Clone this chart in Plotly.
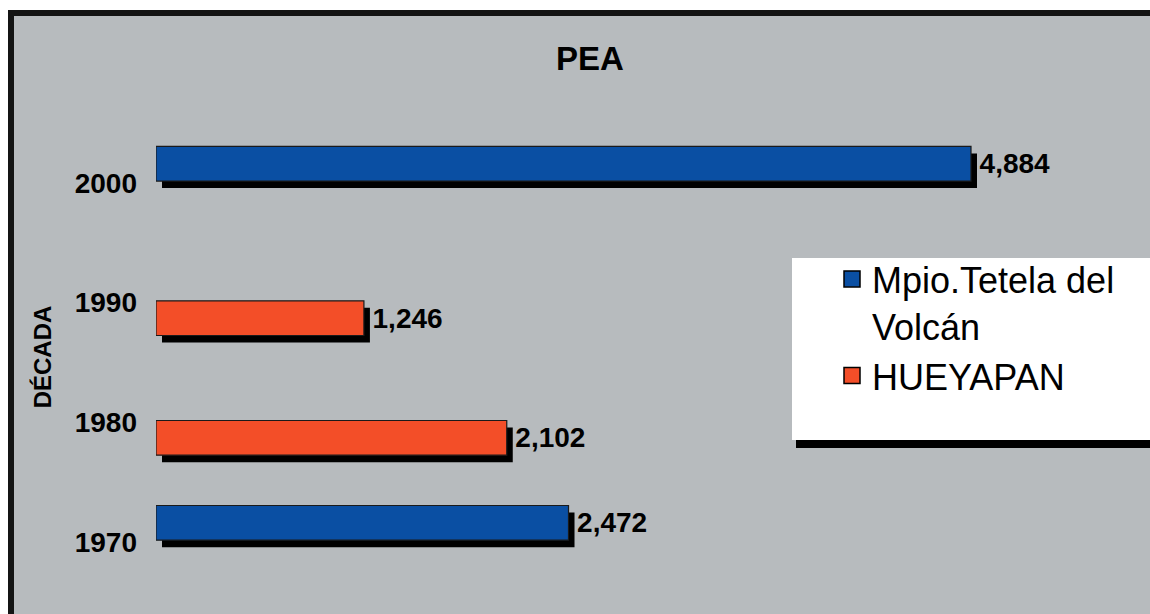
import plotly.graph_objects as go

# ---- data ----
decades = ["1970", "1980", "1990", "2000"]
series_names = ["Mpio.Tetela del<br>Volcán", "HUEYAPAN"]
mpio_values = [2472, None, None, 4884]
hueyapan_values = [None, 2102, 1246, None]

# ---- style ----
BLUE = "#0A4FA3"
ORANGE = "#F34E28"
GRAY = "#B7BBBE"
FONT = "Liberation Sans, Arial, sans-serif"

W, H = 1150, 614
ML, MR, MT, MB = 156, 10, 100, 0
PW, PH = W - ML - MR, H - MT - MB
PX_PER_UNIT = 815 / 4884.0          # horizontal scale
XMAX = PW / PX_PER_UNIT
CAT_PX = 119.7                     # px per category
Y0 = -(H - 542) / CAT_PX
Y1 = (542 - MT) / CAT_PX
SHADOW_DX = 6 / PX_PER_UNIT
SHADOW_DY = 7 / CAT_PX
BAR_W = 0.29


def px_x(px):
    return (px - ML) / PW


def px_y(py):
    return (H - py) / PH


fig = go.Figure()

specs = [
    (series_names[0], mpio_values, BLUE, 0.015),
    (series_names[1], hueyapan_values, ORANGE, -0.275),
]

# shadows
for name, vals, color, off in specs:
    fig.add_trace(go.Bar(
        y=decades, x=vals, orientation="h", base=SHADOW_DX,
        width=BAR_W, offset=off - SHADOW_DY,
        marker=dict(color="black", line=dict(width=0)),
        showlegend=False, hoverinfo="skip",
    ))

# bars
for name, vals, color, off in specs:
    fig.add_trace(go.Bar(
        y=decades, x=vals, orientation="h", name=name,
        width=BAR_W, offset=off,
        marker=dict(color=color, line=dict(color="#1a1a1a", width=1.2)),
        texttemplate="\u2009%{x:,}", textposition="outside",
        textfont=dict(family=FONT, size=28, color="black", weight="bold"),
        cliponaxis=False, showlegend=False,
    ))

# legend entries
for name, vals, color, off in specs:
    fig.add_trace(go.Scatter(
        x=[None], y=[None], mode="markers", name=name,
        marker=dict(symbol="square", size=16, color=color,
                    line=dict(color="black", width=1.5)),
        showlegend=True,
    ))

shapes = [
    # chart background with border
    dict(type="rect", xref="paper", yref="paper",
         x0=px_x(11), x1=px_x(1170), y0=px_y(630), y1=px_y(13),
         fillcolor=GRAY, line=dict(color="#141414", width=6), layer="below"),
    # legend shadow
    dict(type="rect", xref="paper", yref="paper",
         x0=px_x(796), x1=px_x(1170), y0=px_y(448), y1=px_y(266),
         fillcolor="black", line=dict(width=0), layer="below"),
    # legend box
    dict(type="rect", xref="paper", yref="paper",
         x0=px_x(792), x1=px_x(1170), y0=px_y(440), y1=px_y(258),
         fillcolor="white", line=dict(width=0), layer="below"),
]

fig.update_layout(
    width=W, height=H,
    margin=dict(l=ML, r=MR, t=MT, b=MB, autoexpand=False),
    paper_bgcolor="white",
    plot_bgcolor="rgba(0,0,0,0)",
    barmode="overlay",
    font=dict(family=FONT, color="black"),
    title=dict(text="<b>PEA</b>", x=590 / W, xanchor="center",
               y=1 - 58 / H, yanchor="middle", yref="container",
               font=dict(family=FONT, size=33, color="black")),
    xaxis=dict(range=[0, XMAX], visible=False, fixedrange=True),
    yaxis=dict(
        type="category", categoryorder="array", categoryarray=decades,
        range=[Y0, Y1], showgrid=False, zeroline=False, showline=False,
        ticks="", ticklabelstandoff=18,
        tickfont=dict(family=FONT, size=28, color="black", weight="bold"),
        title=dict(text="<b>DÉCADA</b>", standoff=16,
                   font=dict(family=FONT, size=24, color="black")),
        automargin=False,
    ),
    legend=dict(
        x=px_x(832), y=px_y(249), xanchor="left", yanchor="top",
        xref="paper", yref="paper",
        bgcolor="rgba(0,0,0,0)", borderwidth=0,
        font=dict(family=FONT, size=36, color="black"),
        valign="top", itemwidth=30, tracegroupgap=0,
    ),
    shapes=shapes,
    showlegend=True,
)

fig.write_html(
    "out.html",
    config={"displayModeBar": False},
    post_script="document.body.style.margin='0';"
                "document.documentElement.style.overflow='hidden';"
                "document.body.style.overflow='hidden';",
)
